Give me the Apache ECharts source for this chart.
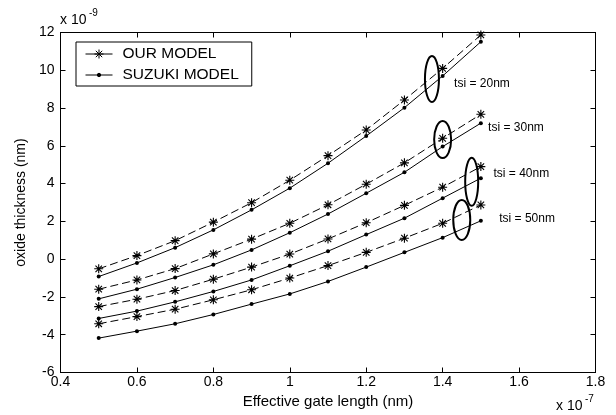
<!DOCTYPE html>
<html lang="en">
<head>
    <meta charset="UTF-8">
    <title>oxide thickness</title>
    <script src="https://cdn.jsdelivr.net/npm/echarts@6/dist/echarts.min.js"></script>
    <style>
        html, body { margin: 0; padding: 0; background: #fff; }
        #chart { width: 616px; height: 415px; }
    </style>
</head>
<body>
<div id="chart"></div>
<script type="text/javascript">
    // effective gate length (x 1e-7)
    var gateLength = [0.5, 0.6, 0.7, 0.8, 0.9, 1.0, 1.1, 1.2, 1.3, 1.4, 1.5];

    // oxide thickness (x 1e-9)
    var our20 = [-0.51, 0.19, 0.98, 1.96, 2.99, 4.18, 5.48, 6.84, 8.43, 10.1, 11.87];
    var suz20 = [-0.92, -0.2, 0.61, 1.55, 2.61, 3.76, 5.08, 6.52, 8.02, 9.7, 11.51];
    var our30 = [-1.59, -1.1, -0.5, 0.28, 1.06, 1.9, 2.88, 3.97, 5.1, 6.4, 7.67];
    var suz30 = [-2.1, -1.59, -0.97, -0.3, 0.49, 1.4, 2.39, 3.49, 4.6, 5.96, 7.2];
    var our40 = [-2.51, -2.12, -1.66, -1.06, -0.42, 0.27, 1.07, 1.93, 2.85, 3.81, 4.9];
    var suz40 = [-3.14, -2.75, -2.26, -1.71, -1.1, -0.35, 0.42, 1.3, 2.17, 3.23, 4.29];
    var our50 = [-3.42, -3.04, -2.65, -2.15, -1.62, -1.0, -0.34, 0.36, 1.11, 1.9, 2.87];
    var suz50 = [-4.18, -3.81, -3.42, -2.93, -2.38, -1.84, -1.18, -0.42, 0.36, 1.14, 2.03];

    var legendNames = ['OUR MODEL', 'SUZUKI MODEL'];

    // annotations: ellipse centre / label anchor in data units
    var tsiLabels = ['tsi = 20nm', 'tsi = 30nm', 'tsi = 40nm', 'tsi = 50nm'];
    var ellipseCentre = [[1.372, 9.54], [1.40, 6.33], [1.476, 4.1], [1.45, 2.08]];
    var labelAnchor = [[1.43, 9.31], [1.519, 6.98], [1.533, 4.51], [1.548, 2.12]];

    var FONT = 'Liberation Sans, Arial, sans-serif';
    var asterisk = 'path://M0,-5L0,5M-5,0L5,0M-3.6,-3.6L3.6,3.6M-3.6,3.6L3.6,-3.6';
    // legend icons: short line with the marker in the middle
    var ourIcon = 'path://M0,6L27,6M13.5,1.5L13.5,10.5M9,6L18,6M10.3,2.8L16.7,9.2M10.3,9.2L16.7,2.8';
    var suzIcon = 'path://M0,6L27,6M0,1.5L0,1.5M0,10.5L0,10.5M11.8,6A1.7,1.7,0,1,1,15.2,6A1.7,1.7,0,1,1,11.8,6Z';

    function pairs(ys) {
        return gateLength.map(function (x, i) { return [x, ys[i]]; });
    }

    function ourSeries(ys) {
        return {
            name: legendNames[0],
            type: 'line',
            data: pairs(ys),
            symbol: asterisk,
            symbolSize: 9,
            color: '#000',
            itemStyle: { color: '#000', borderColor: '#000', borderWidth: 1.1 },
            lineStyle: { color: '#000', width: 1, type: [8, 4] },
            emphasis: { disabled: true }
        };
    }

    function suzSeries(ys) {
        return {
            name: legendNames[1],
            type: 'line',
            data: pairs(ys),
            symbol: 'circle',
            symbolSize: 4,
            color: '#000',
            itemStyle: { color: '#000' },
            lineStyle: { color: '#000', width: 1, type: 'solid' },
            emphasis: { disabled: true }
        };
    }

    var axisCommon = {
        type: 'value',
        axisLine: { show: true, onZero: false, lineStyle: { color: '#000', width: 1 } },
        axisTick: { show: true, inside: true, length: 5, lineStyle: { color: '#000' } },
        splitLine: { show: false }
    };

    var myChart = echarts.init(document.getElementById('chart'));

    var option = {
        animation: false,
        backgroundColor: '#fff',
        grid: { left: 60.5, right: 20.5, top: 32.5, bottom: 42.5, containLabel: false },
        legend: {
            data: [
                { name: legendNames[0], icon: ourIcon },
                { name: legendNames[1], icon: suzIcon }
            ],
            orient: 'vertical',
            left: 76,
            top: 42,
            backgroundColor: '#fff',
            borderColor: '#000',
            borderWidth: 1,
            padding: [4, 13, 3, 9],
            itemWidth: 27,
            itemHeight: 12,
            itemGap: 5,
            selectedMode: false,
            itemStyle: { color: '#000', borderColor: '#000', borderWidth: 1 },
            textStyle: { color: '#000', fontSize: 15.5, fontFamily: FONT, padding: [0, 0, 0, 5] }
        },
        xAxis: [
            Object.assign({}, axisCommon, {
                min: 0.4, max: 1.8, interval: 0.2,
                name: 'Effective gate length (nm)',
                nameLocation: 'middle',
                nameGap: 21,
                nameTextStyle: { color: '#000', fontSize: 15, fontFamily: FONT },
                axisLabel: {
                    color: '#000', fontSize: 14, fontFamily: FONT, margin: 3,
                    formatter: function (v) { return String(Number(v.toFixed(1))); }
                }
            }),
            Object.assign({}, axisCommon, {
                position: 'top', min: 0.4, max: 1.8, interval: 0.2,
                axisLabel: { show: false }
            })
        ],
        yAxis: [
            Object.assign({}, axisCommon, {
                min: -6, max: 12, interval: 2,
                name: 'oxide thickness (nm)',
                nameLocation: 'middle',
                nameGap: 31,
                nameTextStyle: { color: '#000', fontSize: 14, fontFamily: FONT },
                axisLabel: { color: '#000', fontSize: 14, fontFamily: FONT, margin: 6 }
            }),
            Object.assign({}, axisCommon, {
                position: 'right', min: -6, max: 12, interval: 2,
                axisLabel: { show: false }
            })
        ],
        series: [
            ourSeries(our20), suzSeries(suz20),
            ourSeries(our30), suzSeries(suz30),
            ourSeries(our40), suzSeries(suz40),
            ourSeries(our50), suzSeries(suz50)
        ]
    };

    myChart.setOption(option);

    // annotations placed through the axes
    var ellipseR = [[7, 23], [8.5, 18.5], [6.5, 24], [8.5, 20]];
    var graphics = [];
    tsiLabels.forEach(function (txt, i) {
        var c = myChart.convertToPixel({ xAxisIndex: 0, yAxisIndex: 0 }, ellipseCentre[i]);
        var l = myChart.convertToPixel({ xAxisIndex: 0, yAxisIndex: 0 }, labelAnchor[i]);
        graphics.push({
            type: 'ellipse',
            shape: { cx: c[0], cy: c[1], rx: ellipseR[i][0], ry: ellipseR[i][1] },
            style: { fill: 'none', stroke: '#000', lineWidth: 2 },
            silent: true
        });
        graphics.push({
            type: 'text',
            x: l[0], y: l[1],
            style: { text: txt, fill: '#000', fontSize: 12, fontFamily: FONT, verticalAlign: 'middle' },
            silent: true
        });
    });

    // axis exponents
    graphics.push({ type: 'text', x: 60, y: 20, style: { text: 'x 10', fill: '#000', fontSize: 14, fontFamily: FONT, verticalAlign: 'middle' } });
    graphics.push({ type: 'text', x: 89, y: 13, style: { text: '-9', fill: '#000', fontSize: 10, fontFamily: FONT, verticalAlign: 'middle' } });
    graphics.push({ type: 'text', x: 556, y: 406, style: { text: 'x 10', fill: '#000', fontSize: 14, fontFamily: FONT, verticalAlign: 'middle' } });
    graphics.push({ type: 'text', x: 585, y: 399, style: { text: '-7', fill: '#000', fontSize: 10, fontFamily: FONT, verticalAlign: 'middle' } });

    myChart.setOption({ graphic: graphics });
</script>
</body>
</html>
